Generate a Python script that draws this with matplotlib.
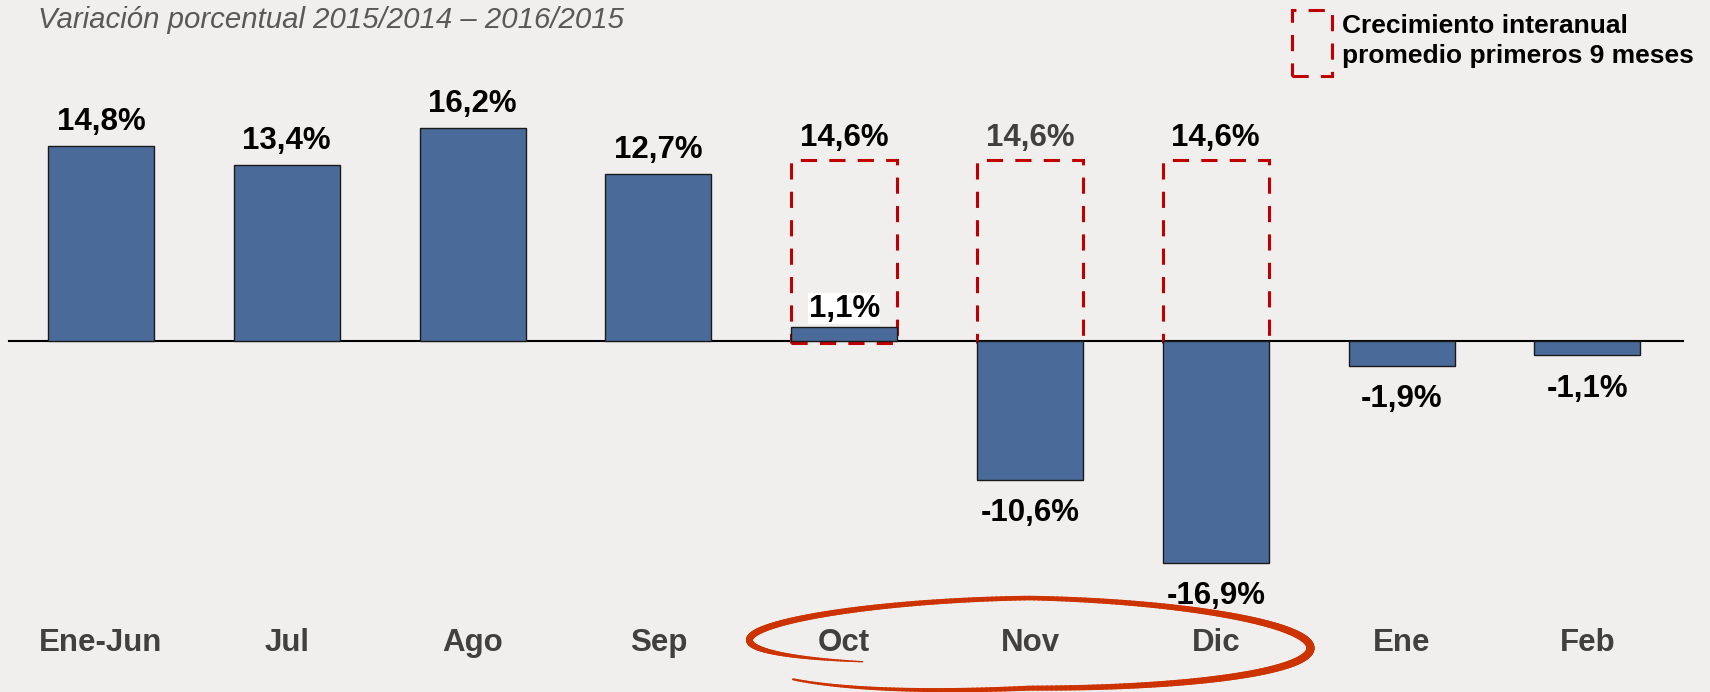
import numpy as np
import matplotlib
matplotlib.use("Agg")
import matplotlib.pyplot as plt
from matplotlib.patches import Rectangle
from matplotlib.collections import LineCollection

# datos
categorias = ["Ene-Jun", "Jul", "Ago", "Sep", "Oct", "Nov", "Dic", "Ene", "Feb"]
variacion = [14.8, 13.4, 16.2, 12.7, 1.1, -10.6, -16.9, -1.9, -1.1]
etiquetas = ["14,8%", "13,4%", "16,2%", "12,7%", "1,1%", "-10,6%", "-16,9%", "-1,9%", "-1,1%"]
meses_promedio = ["Oct", "Nov", "Dic"]
promedio_etiqueta = ["14,6%", "14,6%", "14,6%"]
promedio_caja = [13.8, 13.8, 13.8]   # altura a la que esta dibujada la caja

titulo = "Variación porcentual 2015/2014 – 2016/2015"
leyenda = "Crecimiento interanual\npromedio primeros 9 meses"

FONDO = "#F0EFED"
AZUL = "#4A6B9A"
ROJO = "#C00000"
NARANJA = "#CC3300"
GRIS = "#404040"
FUENTE = "Liberation Sans"

fig = plt.figure(figsize=(17.1, 6.92), dpi=100, facecolor=FONDO)
ax = fig.add_axes([0, 0, 1, 1])
ax.set_facecolor(FONDO)
ax.axis("off")
ax.set_xlim(-0.5436, 8.66)
ax.set_ylim(-26.69, 25.93)

x = np.arange(len(categorias))
ancho = 0.57

# linea base
ax.axhline(0, xmin=0.0053, xmax=0.984, color="black", lw=1.5, zorder=2)

# cajas punteadas (promedio primeros 9 meses)
for mes, alto, txt in zip(meses_promedio, promedio_caja, promedio_etiqueta):
    i = categorias.index(mes)
    ax.add_patch(Rectangle((i - ancho / 2, -0.15), ancho, alto + 0.15, fill=False,
                           edgecolor=ROJO, lw=2.2, linestyle=(0, (5.3, 4)), zorder=2.5))
    col = GRIS if mes == "Nov" else "black"
    ax.annotate(txt, (i, alto), xytext=(0, 10), textcoords="offset points",
                ha="center", va="baseline", fontsize=22.5, fontweight="bold",
                family=FUENTE, color=col)

# barras
ax.bar(x, variacion, width=ancho, color=AZUL, edgecolor="#1a1a1a", lw=1, zorder=3)

for i, (v, txt) in enumerate(zip(variacion, etiquetas)):
    if v >= 0:
        off = 7 if v < 2 else 11.5
        t = ax.annotate(txt, (i, v), xytext=(0, off), textcoords="offset points",
                        ha="center", va="baseline", fontsize=22.5, fontweight="bold",
                        family=FUENTE, color="black", zorder=4)
        if v < 2:
            t.set_bbox(dict(facecolor="white", edgecolor="none", pad=0.5))
    else:
        ax.annotate(txt, (i, v), xytext=(0, -13), textcoords="offset points",
                    ha="center", va="top", fontsize=22.5, fontweight="bold",
                    family=FUENTE, color="black", zorder=4)

# etiquetas del eje x
for i, c in enumerate(categorias):
    ax.text(i, -23.0, c, ha="center", va="center", fontsize=22.5,
            fontweight="bold", family=FUENTE, color=GRIS, zorder=4)

# elipse dibujada a mano alrededor de Oct-Dic
centro = categorias.index("Nov")
th = np.linspace(2.21, 8.86, 400)
cy = -22.74 - 0.61 * (th - np.pi) / np.pi
b = np.interp(th, [2.21, 1.5 * np.pi, 2.5 * np.pi, 8.86], [2.28, 3.5, 2.74, 3.5])
ex = centro + 1.51 * np.cos(th)
ey = cy - b * np.sin(th)
grosor = np.interp(th, [2.21, np.pi, 1.5 * np.pi, 2 * np.pi, 2.5 * np.pi, 8.86],
                   [1.0, 5.0, 3.3, 5.8, 3.6, 1.5])
pts = np.column_stack([ex, ey]).reshape(-1, 1, 2)
segs = np.concatenate([pts[:-1], pts[1:]], axis=1)
ax.add_collection(LineCollection(segs, linewidths=grosor[:-1], colors=NARANJA,
                                 capstyle="round", zorder=5))

# titulo y leyenda
fig.text(38 / 1710, 1 - 28 / 692, titulo, ha="left", va="baseline", fontsize=21.2,
         style="italic", family=FUENTE, color="#595959")
fig.patches.append(Rectangle((1292 / 1710, 1 - 76 / 692), 40 / 1710, 66 / 692,
                             transform=fig.transFigure, fill=False, edgecolor=ROJO,
                             lw=2.2, linestyle=(0, (5.3, 4))))
fig.text(1342 / 1710, 1 - 14 / 692, leyenda, ha="left", va="top", fontsize=19,
         fontweight="bold", family=FUENTE, color="black", linespacing=1.32)

fig.savefig("out.png", dpi=100, facecolor=FONDO)
